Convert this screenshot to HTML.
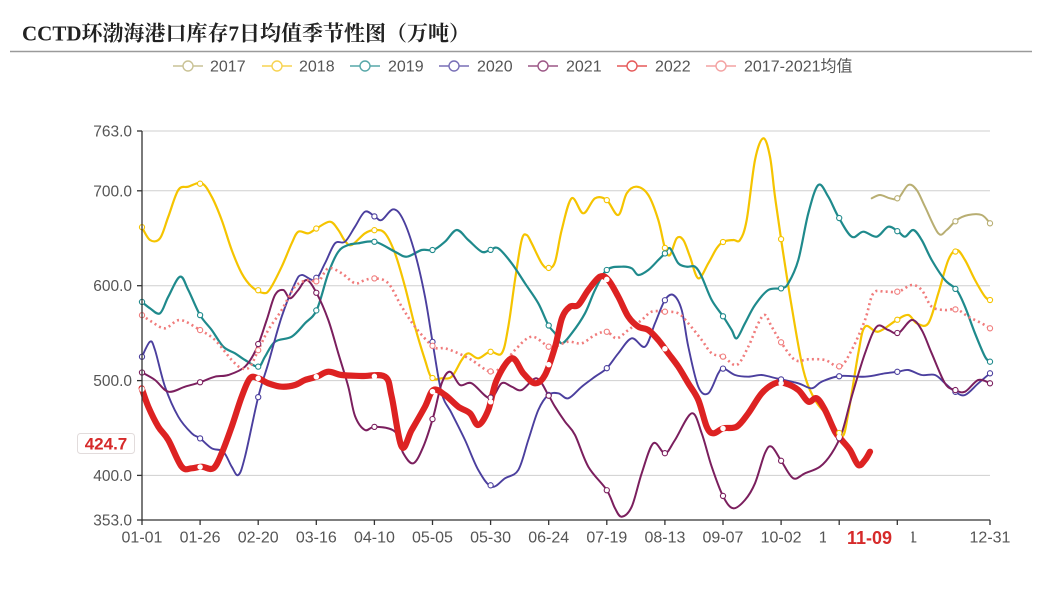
<!DOCTYPE html>
<html><head><meta charset="utf-8">
<style>
html,body{margin:0;padding:0;background:#fff;}
svg{display:block;}
text{font-family:"Liberation Sans","Noto Sans CJK SC",sans-serif;}
</style></head>
<body>
<svg id="c" width="1047" height="598" viewBox="0 0 1047 598" xmlns="http://www.w3.org/2000/svg">
<rect width="1047" height="598" fill="#fff"/>
<text x="22" y="40.5" font-weight="bold" font-size="21" fill="#222" style="font-family:'Liberation Serif','Noto Serif CJK SC',serif">CCTD环渤海港口库存7日均值季节性图（万吨）</text>
<line x1="10" y1="51.5" x2="1032" y2="51.5" stroke="#9a9a9a" stroke-width="1.5"/>

<!-- legend -->
<g font-size="16" fill="#555">
<g opacity="0.75">
<line x1="173" y1="66" x2="203" y2="66" stroke="#b8ae72" stroke-width="1.6"/><circle cx="188" cy="66" r="5" fill="#fff" stroke="#b8ae72" stroke-width="1.4"/>
<line x1="262" y1="66" x2="292" y2="66" stroke="#f5c518" stroke-width="1.6"/><circle cx="277" cy="66" r="5" fill="#fff" stroke="#f5c518" stroke-width="1.4"/>
<line x1="350" y1="66" x2="380" y2="66" stroke="#1f8a8c" stroke-width="1.6"/><circle cx="365" cy="66" r="5" fill="#fff" stroke="#1f8a8c" stroke-width="1.4"/>
<line x1="439" y1="66" x2="469" y2="66" stroke="#4b3f9e" stroke-width="1.6"/><circle cx="454" cy="66" r="5" fill="#fff" stroke="#4b3f9e" stroke-width="1.4"/>
<line x1="528" y1="66" x2="558" y2="66" stroke="#7b1f5e" stroke-width="1.6"/><circle cx="543" cy="66" r="5" fill="#fff" stroke="#7b1f5e" stroke-width="1.4"/>
<line x1="617" y1="66" x2="647" y2="66" stroke="#dd2222" stroke-width="1.6"/><circle cx="632" cy="66" r="5" fill="#fff" stroke="#dd2222" stroke-width="1.4"/>
<line x1="706" y1="66" x2="736" y2="66" stroke="#f08484" stroke-width="1.6"/><circle cx="721" cy="66" r="5" fill="#fff" stroke="#f08484" stroke-width="1.4"/>
</g>
<text x="210" y="71.5">2017</text>
<text x="299" y="71.5">2018</text>
<text x="388" y="71.5">2019</text>
<text x="477" y="71.5">2020</text>
<text x="566" y="71.5">2021</text>
<text x="655" y="71.5">2022</text>
<text x="744" y="71.5">2017-2021均值</text>
</g>

<!-- grid -->
<g stroke="#cfcfcf" stroke-width="1">
<line x1="142" y1="131" x2="990" y2="131"/>
<line x1="142" y1="190.8" x2="990" y2="190.8"/>
<line x1="142" y1="285.7" x2="990" y2="285.7"/>
<line x1="142" y1="380.6" x2="990" y2="380.6"/>
<line x1="142" y1="475.4" x2="990" y2="475.4"/>
</g>

<g id="series"></g>

<!-- axes -->
<g stroke="#333" stroke-width="1.3">
<line x1="142" y1="131" x2="142" y2="520"/>
<line x1="142" y1="520" x2="990" y2="520"/>
<line x1="137" y1="131" x2="142" y2="131"/>
<line x1="137" y1="190.8" x2="142" y2="190.8"/>
<line x1="137" y1="285.7" x2="142" y2="285.7"/>
<line x1="137" y1="380.6" x2="142" y2="380.6"/>
<line x1="137" y1="475.4" x2="142" y2="475.4"/>
<line x1="137" y1="520" x2="142" y2="520"/>
</g>
<g id="xticks" stroke="#333" stroke-width="1.3"></g>

<g font-size="15.5" fill="#555" text-anchor="end">
<text x="132" y="136.5">763.0</text>
<text x="132" y="196.3">700.0</text>
<text x="132" y="291.2">600.0</text>
<text x="132" y="386.1">500.0</text>
<text x="132" y="480.9">400.0</text>
<text x="132" y="525.5">353.0</text>
</g>

<g font-size="16" fill="#555" text-anchor="middle">
<text x="142" y="542.5">01-01</text>
<text x="200.1" y="542.5">01-26</text>
<text x="258.2" y="542.5">02-20</text>
<text x="316.3" y="542.5">03-16</text>
<text x="374.4" y="542.5">04-10</text>
<text x="432.5" y="542.5">05-05</text>
<text x="490.6" y="542.5">05-30</text>
<text x="548.7" y="542.5">06-24</text>
<text x="606.8" y="542.5">07-19</text>
<text x="664.9" y="542.5">08-13</text>
<text x="723" y="542.5">09-07</text>
<text x="781.1" y="542.5">10-02</text>
<text x="839.2" y="542.5">10-27</text>
<text x="897.3" y="542.5">11-21</text>
<text x="990" y="542.5">12-31</text>
</g>
<rect x="826" y="526" width="85.5" height="24" fill="#fff"/>
<text x="869.5" y="544" font-size="18" font-weight="bold" fill="#d62a2a" text-anchor="middle">11-09</text>

<rect x="77.5" y="433.5" width="57" height="20" rx="3" fill="#fff" stroke="#e2dcdc" stroke-width="1"/>
<text x="106" y="449.5" font-size="17" font-weight="bold" fill="#d62a2a" text-anchor="middle">424.7</text>
</svg>
<script>
(function(){
var NS="http://www.w3.org/2000/svg";
var S=[
{c:"#b8ae72",w:2,d:[[871.7,198.3],[880,195],[890,198.3],[898.3,198.3],[908.3,185],[916.7,190],[925,206.7],[938.3,233.3],[946.7,230],[956.7,220],[968.3,215],[981.7,215],[990,223.3]]},
{c:"#f5c400",w:2.2,d:[[141.7,226.7],[150,240],[160,238.3],[168.3,216.7],[178.3,190],[188.3,186.7],[201.7,183.3],[211.7,196.7],[221.7,220],[231.7,250],[241.7,273.3],[251.7,286.7],[263.3,293],[270,289],[281.7,266.7],[291.7,243.3],[298.3,231.7],[308.3,233.3],[316.7,228.3],[330,221.7],[338.3,230],[345,241],[351.7,245],[365,233.3],[375,230],[385,233.3],[395,253.3],[405,286.7],[415,326.7],[425,360],[431.7,378],[441.7,378.3],[451.7,376.7],[461.7,360],[468.3,353.3],[478.3,358.3],[490,351.7],[501.7,353.3],[508.3,326.7],[515,280],[521.7,240],[526.7,235],[531.7,243.3],[541.7,263.3],[548.3,268.3],[555,262],[561.7,230],[571.7,198.3],[583.3,213.3],[595,198.3],[606.7,200],[618.3,215],[626.7,193.3],[636.7,186.7],[648.3,195],[658.3,220],[665,248.3],[670,255],[676.7,238.3],[683.3,240],[690,256.7],[698.3,278.3],[708.3,263.3],[716.7,248.3],[723.3,241.7],[733.3,240],[740,240],[746.7,220],[755,160],[763.3,138.3],[770,156.7],[775,196.7],[781.7,243.3],[791.7,306.7],[803.3,370],[815,400],[828.3,416.7],[841.7,436.7],[848.3,413.3],[858.3,353.3],[865,326.7],[878.3,331.7],[896.7,320],[908.3,315],[916.7,323.3],[928.3,323.3],[938.3,293.3],[948.3,260],[956.7,250],[965,260],[975,280],[985,296.7],[990,300]]},
{c:"#1f8a8c",w:2.2,d:[[141.7,301.7],[150,308.3],[160,313.3],[168.3,296.7],[180,276.7],[188.3,290],[200,315],[211.7,330],[223.3,346.7],[235,353.3],[245,360],[258.3,366.7],[265,356.7],[275,341.7],[291.7,336.7],[305,323.3],[316.7,310],[328.3,273.3],[338.3,251.7],[348.3,245],[358.3,243.3],[375,241.7],[395,251.7],[406.7,256.7],[421.7,250],[433.3,250],[445,241.7],[456.7,230],[468.3,240],[481.7,251.7],[490,250],[498.3,248.3],[511.7,263.3],[525,283.3],[538.3,303.3],[548.3,325],[555,333.3],[561.7,343.3],[571.7,333.3],[585,313.3],[595,290],[606.7,270],[621.7,266.7],[631.7,268.3],[638.3,275],[648.3,270],[658.3,260],[665,253.3],[670,248.3],[678.3,263.3],[686.7,266.7],[695,266.7],[701.7,276.7],[711.7,300],[723.3,316.7],[731.7,330],[736.7,338.3],[745,323.3],[755,305],[768.3,290],[781.7,288.3],[788.3,283.3],[798.3,260],[808.3,213.3],[818.3,185],[828.3,196.7],[838.3,216.7],[851.7,236.7],[863.3,231.7],[876.7,236.7],[888.3,226.7],[898.3,231.7],[905,236.7],[913.3,230],[921.7,240],[931.7,260],[945,280],[956.7,290],[965,306.7],[975,333.3],[985,356.7],[990,361.7]]},
{c:"#4b3f9e",w:1.9,d:[[141.7,357.3],[150,341.7],[155,350],[165,386.7],[178.3,416.7],[191.7,433.3],[200,438.3],[211.7,448.3],[223.3,451.7],[231.7,466.7],[238.3,475],[245,456.7],[258.3,396.7],[268.3,363.3],[281.7,316.7],[295,283.3],[301.7,275],[315,280],[325,263.3],[335,243.3],[345,241.7],[355,226.7],[365,211.7],[375,216.7],[381.7,220],[393.3,209.3],[403.3,220],[415,253.3],[425,296.7],[433.3,346.7],[441.7,393.3],[451.7,413.3],[465,440],[478.3,470],[491.7,486.7],[505,478.3],[518.3,470],[528.3,440],[538.3,410],[548.3,395],[558.3,393.3],[568.3,398.3],[581.7,386.7],[595,376.7],[606.7,368.3],[618.3,353.3],[631.7,338.3],[645,346.7],[655,323.3],[665,300],[673.3,295],[681.7,310],[688.3,346.7],[698.3,386.7],[708.3,393.3],[718.3,373.3],[723.3,368.3],[735,375],[748.3,376.7],[761.7,375],[775,378],[798.3,383.3],[811.7,388.3],[821.7,381.7],[840,376],[865,376.7],[885,373.3],[898.3,371.7],[908.3,370],[921.7,375],[935,375],[945,383.3],[955,391.7],[965,395],[978.3,383.3],[990,373.3]]},
{c:"#7b1f5e",w:2,d:[[141.7,372.3],[155,380],[168.3,391.7],[185,386.7],[200,382.3],[215,376.7],[228.3,375],[245,366.7],[256.7,348.3],[266.7,320],[275,295],[283.3,290],[290,298.3],[298.3,290],[306.7,280],[316.7,293.3],[328.3,320],[338.3,353.3],[348.3,386.7],[355,416],[365,430],[375,426.7],[395,431.7],[403.3,453.3],[413.3,463.3],[423.3,446.7],[433.3,416.7],[441.7,383.3],[450,371.7],[460,385],[471.7,383.3],[490,398.3],[501.7,383.3],[511.7,386.7],[521.7,390],[536.7,378.3],[548.3,395],[555,406.7],[565,421.7],[575,435],[588.3,466.7],[606.7,490],[615,508.3],[621.7,516.7],[631.7,506.7],[641.7,473.3],[653.3,443.3],[665,453.3],[675,440],[691.7,413.3],[701.7,433.3],[711.7,466.7],[723.3,496.7],[733.3,508.3],[745,500],[755,483.3],[765,453],[771.7,446.7],[781.7,461.7],[793.3,478.3],[805,473.3],[820,466.7],[831.7,453.3],[841.7,433.3],[851.7,396.7],[865,353.3],[876.7,326.7],[888.3,330],[898.3,333.3],[911.7,320],[921.7,330],[931.7,353.3],[945,383.3],[955,390],[965,391.7],[978.3,380],[990,383.3]]},
{c:"#f07c7c",w:2.6,dash:"2 3.2",d:[[141.7,315],[151.7,321.7],[165,328.3],[180,320],[200,330],[215,340],[231.7,360],[241.7,368.3],[250,366.7],[258.3,350],[268.3,330],[281.7,310],[295,286.7],[308.3,280],[318.3,281.7],[328.3,268.3],[341.7,273.3],[355,283.3],[365,280],[375,278.3],[388.3,283.3],[401.7,306.7],[415,326.7],[433.3,346.7],[445,348.3],[458.3,353.3],[471.7,360],[490,371.7],[501.7,366.7],[515,350],[531.7,336.7],[548.3,346.7],[555,346.7],[568.3,341.7],[581.7,343.3],[595,335],[606.7,331.7],[616.7,338.3],[628.3,330],[641.7,320],[651.7,311.7],[665,311.7],[678.3,313.3],[688.3,323.3],[701.7,340],[711.7,353.3],[723.3,356.7],[736.7,365],[748.3,346.7],[758.3,323.3],[765,315],[771.7,326.7],[781.7,343.3],[795,360],[808.3,359.3],[825,360],[840,366.7],[851.7,350],[865,320],[873.3,293.3],[885,291.7],[898.3,291.7],[911.7,285],[921.7,290],[931.7,306.7],[945,310],[956.7,309.3],[968.3,316.7],[981.7,323.3],[990,328.3]]},
{c:"#dd2222",w:6.2,d:[[141.7,388.3],[148.3,406.7],[158.3,426.7],[168.3,440],[181.7,466.7],[191.7,468.3],[201.7,466.7],[213.3,468.3],[221.7,453.3],[231.7,426.7],[241.7,396.7],[250,378.3],[258.3,378.3],[268.3,383.3],[281.7,386.7],[295,385],[305,380],[316.7,376.7],[328.3,371.7],[341.7,375],[361.7,376],[385,376.7],[391.7,396.7],[401.7,446.7],[411.7,430],[425,406.7],[433.3,390],[445,395],[458.3,406.7],[470,413.3],[478.3,425],[488.3,410],[496.7,380],[511.7,358.3],[523.3,373.3],[535,383.3],[545,375],[555,347],[562,318],[570,306.7],[578.3,305],[588.3,290],[600,276.7],[608.3,280],[618.3,296.7],[628.3,316.7],[638.3,326.7],[648.3,330],[658.3,340],[668.3,353.3],[678.3,366.7],[688.3,383.3],[698.3,400],[706.7,426.7],[713.3,433.3],[723.3,428.3],[736.7,426.7],[748.3,413.3],[761.7,393.3],[775,383.3],[785,383.3],[798.3,390],[808.3,401.7],[816.7,398.3],[825,410],[835,431.7],[841.7,440],[850,450],[858.3,465],[865,460],[870,451.7]]}
];
function pathD(p){
  var d="M"+p[0][0]+","+p[0][1];
  for(var i=0;i<p.length-1;i++){
    var p0=p[i-1]||p[i],p1=p[i],p2=p[i+1],p3=p[i+2]||p[i+1];
    var t=1/6;
    var c1x=p1[0]+(p2[0]-p0[0])*t,c1y=p1[1]+(p2[1]-p0[1])*t;
    var c2x=p2[0]-(p3[0]-p1[0])*t,c2y=p2[1]-(p3[1]-p1[1])*t;
    d+=" C"+c1x.toFixed(2)+","+c1y.toFixed(2)+" "+c2x.toFixed(2)+","+c2y.toFixed(2)+" "+p2[0]+","+p2[1];
  }
  return d;
}
function yAt(p,x){
  if(x<p[0][0]-1||x>p[p.length-1][0]+1)return null;
  if(x<=p[0][0])return p[0][1];
  for(var i=0;i<p.length-1;i++){
    if(x>=p[i][0]&&x<=p[i+1][0]){
      var f=(x-p[i][0])/(p[i+1][0]-p[i][0]);
      return p[i][1]+f*(p[i+1][1]-p[i][1]);
    }
  }
  return p[p.length-1][1];
}
var g=document.getElementById("series");
var mx=[];
for(var k=0;k<=14;k++)mx.push(142+k*58.1);
mx.push(990);
S.forEach(function(s){
  var pe=document.createElementNS(NS,"path");
  pe.setAttribute("d",pathD(s.d));
  pe.setAttribute("fill","none");
  pe.setAttribute("stroke",s.c);
  pe.setAttribute("stroke-width",s.w);
  pe.setAttribute("stroke-linejoin","round");
  pe.setAttribute("stroke-linecap","round");
  if(s.dash){pe.setAttribute("stroke-dasharray",s.dash);pe.setAttribute("stroke-linecap","butt");}
  g.appendChild(pe);
});
S.forEach(function(s){
  mx.forEach(function(x){
    var y=yAt(s.d,x);
    if(y===null)return;
    var ci=document.createElementNS(NS,"circle");
    ci.setAttribute("cx",x);ci.setAttribute("cy",y.toFixed(2));
    ci.setAttribute("r",s.w>5?2.2:2.6);
    ci.setAttribute("fill","#fff");
    ci.setAttribute("stroke",s.w>5?"#fff":s.c);
    ci.setAttribute("stroke-width",1.1);
    g.appendChild(ci);
  });
});
var xt=document.getElementById("xticks");
for(var k=0;k<=13;k++){
  var l=document.createElementNS(NS,"line");
  var x=142+k*58.1;
  l.setAttribute("x1",x);l.setAttribute("x2",x);l.setAttribute("y1",520);l.setAttribute("y2",525);
  xt.appendChild(l);
}
var l2=document.createElementNS(NS,"line");
l2.setAttribute("x1",990);l2.setAttribute("x2",990);l2.setAttribute("y1",520);l2.setAttribute("y2",525);
xt.appendChild(l2);
})();
</script>
</body></html>
